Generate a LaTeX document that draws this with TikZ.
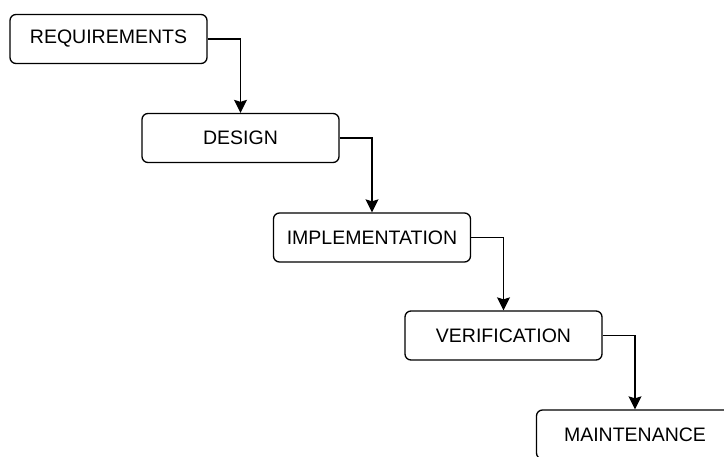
\documentclass[tikz,border=0pt]{standalone}
\usepackage{fontspec}
\setmainfont{Liberation Sans}
\usetikzlibrary{arrows.meta,positioning}

\begin{document}
\begin{tikzpicture}[
  x=1pt, y=-1pt,
  stage/.style={draw, rounded corners=6pt, align=center, minimum width=197pt,
    minimum height=49pt, line width=1.3pt, font=\fontsize{19.5}{21}\selectfont},
  flow/.style={-{Stealth[length=13pt,width=13pt,inset=2pt]}, line width=1.3pt}
]
\useasboundingbox (0,0) rectangle (724,457);
\node[stage] (req) at (108.5,39) {REQUIREMENTS};
\node[stage] (des) at (240.5,138) {DESIGN};
\node[stage] (impl) at (372,237.5) {IMPLEMENTATION};
\node[stage] (verif) at (503.5,335.5) {VERIFICATION};
\node[stage] (maint) at (635,434.5) {MAINTENANCE};
\draw[flow] (req.east) -| (des.north);
\draw[flow] (des.east) -| (impl.north);
\draw[flow] (impl.east) -| (verif.north);
\draw[flow] (verif.east) -| (maint.north);
\end{tikzpicture}
\end{document}
